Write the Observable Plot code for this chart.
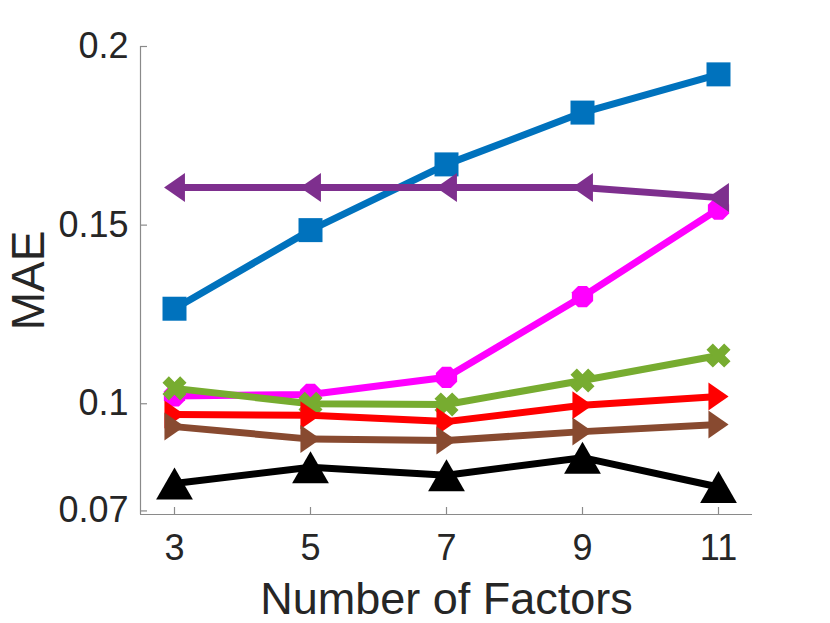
<!DOCTYPE html>
<html>
<head>
<meta charset="utf-8">
<script src="https://cdn.jsdelivr.net/npm/d3@7"></script>
<script src="https://cdn.jsdelivr.net/npm/@observablehq/plot@0.6"></script>
<style>
  html, body { margin: 0; padding: 0; background: #fff; }
  #chart svg { display: block; overflow: visible; }
</style>
</head>
<body>
<div id="chart"></div>
<script>
// ---- data ----
const factors = [3, 5, 7, 9, 11];
const blueSquare   = [0.1266, 0.1486, 0.1670, 0.1815, 0.1922];
const purpleLeft   = [0.1605, 0.1605, 0.1605, 0.1605, 0.1577];
const magentaCirc  = [0.1022, 0.1026, 0.1074, 0.1300, 0.1545];
const greenCross   = [0.1043, 0.1000, 0.0998, 0.1065, 0.1135];
const redRight     = [0.0970, 0.0968, 0.0950, 0.0996, 0.1020];
const brownRight   = [0.0936, 0.0901, 0.0897, 0.0922, 0.0942];
const blackUp      = [0.0777, 0.0822, 0.0800, 0.0849, 0.0767];
const yTicks = [0.07, 0.1, 0.15, 0.2];
const yTickLabels = ["0.07", "0.1", "0.15", "0.2"];
const xTicks = [3, 5, 7, 9, 11];
const xLabel = "Number of Factors";
const yLabel = "MAE";

// ---- custom marker shapes (size = PI r^2) ----
const rad = s => Math.sqrt(s / Math.PI);
const symSquare = { draw(c, s) { const r = rad(s); c.rect(-r, -r, 2 * r, 2 * r); } };
const symLeft = { draw(c, s) { const r = rad(s), w = r * 0.72; c.moveTo(-w, 0); c.lineTo(w, -r); c.lineTo(w, r); c.closePath(); } };
const symRight = { draw(c, s) { const r = rad(s), w = r * 0.72; c.moveTo(w, 0); c.lineTo(-w, -r); c.lineTo(-w, r); c.closePath(); } };
const symUp = { draw(c, s) { const r = rad(s), w = r * 1.15; c.moveTo(0, -r); c.lineTo(w, r); c.lineTo(-w, r); c.closePath(); } };
const symHex = { draw(c, s) {
  const r = rad(s);
  for (let i = 0; i < 8; i++) {
    const a = Math.PI / 8 + i * Math.PI / 4;
    const px = r * Math.cos(a), py = r * Math.sin(a);
    if (i === 0) c.moveTo(px, py); else c.lineTo(px, py);
  }
  c.closePath();
} };
const symX = { draw(c, s) {
  const a = rad(s), t = a * 0.36, k = Math.SQRT1_2;
  const pts = [[t,a],[t,t],[a,t],[a,-t],[t,-t],[t,-a],[-t,-a],[-t,-t],[-a,-t],[-a,t],[-t,t],[-t,a]]
    .map(([x, y]) => [(x - y) * k, (x + y) * k]);
  c.moveTo(pts[0][0], pts[0][1]);
  for (let i = 1; i < pts.length; i++) c.lineTo(pts[i][0], pts[i][1]);
  c.closePath();
} };

const series = [
  { values: blueSquare,  color: "#0072BD", symbol: symSquare, r: 12 },
  { values: magentaCirc, color: "#FF00FF", symbol: symHex,    r: 11.5 },
  { values: greenCross,  color: "#77AC30", symbol: symX,      r: 12.5 },
  { values: redRight,    color: "#FF0000", symbol: symRight,  r: 14 },
  { values: brownRight,  color: "#884A30", symbol: symRight,  r: 14 },
  { values: blackUp,     color: "#000000", symbol: symUp,     r: 16 },
  { values: purpleLeft,  color: "#7E2F8E", symbol: symLeft,   r: 14.5 }
];

const xDomain = [2.5, 11.5];
const yDomain = [0.069, 0.2];
const axisColor = "#8a8a8a";
const textColor = "#262626";

const seriesMarks = series.flatMap(s => {
  const rows = factors.map((f, i) => ({ f, v: s.values[i] }));
  return [
    Plot.line(rows, { x: "f", y: "v", stroke: s.color, strokeWidth: 7, strokeLinejoin: "round", strokeLinecap: "butt" }),
    Plot.dot(rows, { x: "f", y: "v", symbol: s.symbol, r: s.r, fill: s.color, stroke: "none" })
  ];
});

const chart = Plot.plot({
  width: 830,
  height: 623,
  marginLeft: 140,
  marginRight: 78,
  marginTop: 46,
  marginBottom: 109,
  style: { fontFamily: "'Liberation Sans', Arial, Helvetica, sans-serif", color: textColor, background: "#fff" },
  x: { domain: xDomain },
  y: { domain: yDomain },
  symbol: { type: "identity" },
  marks: [
    // axis lines
    Plot.ruleX([xDomain[0]], { y1: yDomain[1], y2: yDomain[0], stroke: axisColor, strokeWidth: 1.2 }),
    Plot.ruleY([yDomain[0]], { x1: xDomain[0], x2: xDomain[1], stroke: axisColor, strokeWidth: 1.2 }),
    // inward ticks
    Plot.tickY(yTicks, { y: d => d, insetRight: 605, stroke: axisColor, strokeWidth: 1.2 }),
    Plot.tickX(xTicks, { x: d => d, insetTop: 461, stroke: axisColor, strokeWidth: 1.2 }),
    // tick labels
    Plot.axisY(yTicks, { tickSize: 0, tickPadding: 12, tickFormat: d => yTickLabels[yTicks.indexOf(d)], fontSize: 36, label: null, color: textColor }),
    Plot.axisX(xTicks, { tickSize: 0, tickPadding: 20, tickFormat: d => String(d), fontSize: 36, label: null, color: textColor }),
    // axis titles
    Plot.text([xLabel], { frameAnchor: "bottom", dy: 99, lineAnchor: "bottom", textAnchor: "middle", fontSize: 45, fill: textColor }),
    Plot.text([yLabel], { frameAnchor: "left", dx: -97, rotate: -90, lineAnchor: "bottom", textAnchor: "middle", fontSize: 46, fill: textColor }),
    ...seriesMarks
  ]
});

document.getElementById("chart").append(chart);
</script>
</body>
</html>
